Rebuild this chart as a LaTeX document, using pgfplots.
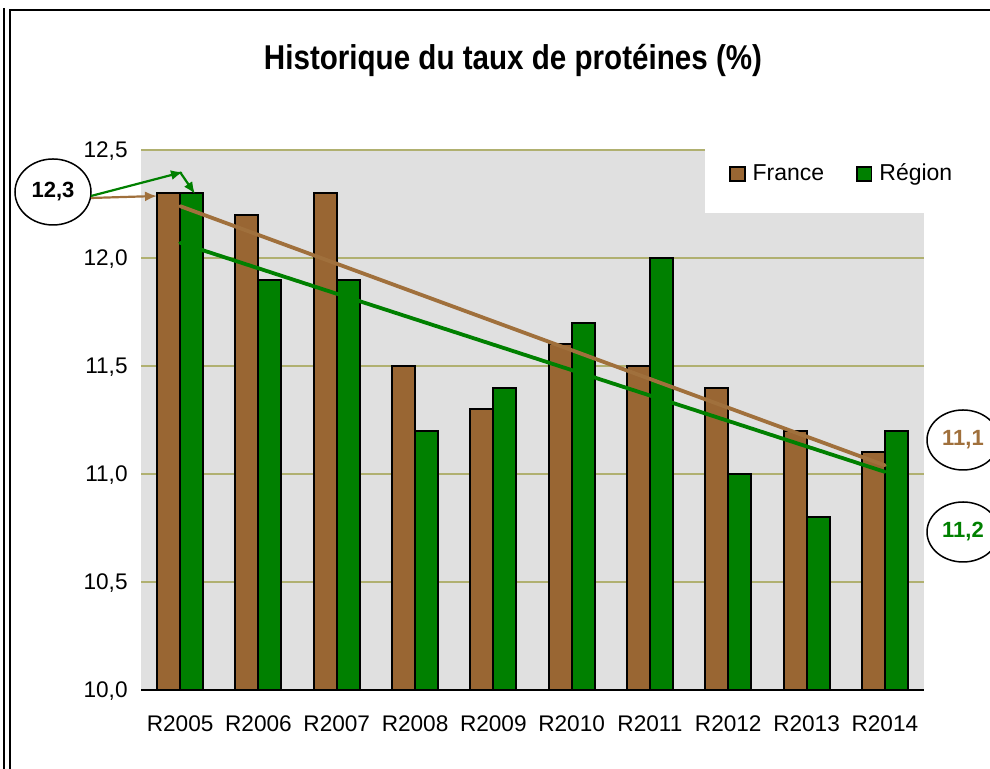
\documentclass[border=0pt]{standalone}
\usepackage{fontspec}
\setmainfont{Liberation Sans}
\usepackage{graphicx}
\usepackage{pgfplots}
\pgfplotsset{compat=1.18}
\usetikzlibrary{arrows.meta}
\definecolor{frbar}{RGB}{153,102,51}
\definecolor{frline}{RGB}{160,112,60}
\definecolor{rgbar}{RGB}{0,128,0}
\definecolor{bggray}{RGB}{224,224,224}
\definecolor{gridcol}{RGB}{176,176,112}
\pgfplotsset{sqlegend/.style={legend image code/.code={\draw[##1, draw=black, line width=0.9pt] (0pt,-3.6pt) rectangle (7.2pt,3.6pt);}}}
\begin{document}
\begin{tikzpicture}
\path[use as bounding box] (0,0) rectangle (495pt,384.5pt);
\begin{axis}[
  name=ax,
  at={(70.5pt,39.5pt)}, anchor=south west,
  scale only axis, width=391.5pt, height=270pt,
  xmin=-0.5, xmax=9.5, ymin=10, ymax=12.5,
  xtick={0,1,2,3,4,5,6,7,8,9},
  xticklabels={R2005,R2006,R2007,R2008,R2009,R2010,R2011,R2012,R2013,R2014},
  ytick={10,10.5,11,11.5,12,12.5},
  ymajorgrids, grid style={gridcol, line width=0.6pt},
  axis background/.style={fill=bggray},
  axis x line*=bottom, axis y line*=left,
  x axis line style={draw=none},
  y axis line style={draw=none},
  tick style={draw=none},
  major tick length=0pt,
  /pgf/number format/.cd, fixed, fixed zerofill, precision=1, use comma, assume math mode=true, /pgfplots/.cd,
  x tick label style={font=\fontsize{11.3}{13}\selectfont, anchor=north, inner sep=0pt, yshift=-12.5pt},
  y tick label style={font=\fontsize{11.3}{13}\selectfont, anchor=base east, inner sep=0pt, xshift=-6.5pt, yshift=-4pt},
  legend style={at={(0.751,0.9556)}, anchor=west, draw=none, fill=none, inner sep=0pt,
    font=\fontsize{11.5}{13}\selectfont,
    /tikz/every odd column/.append style={column sep=1.5pt},
    /tikz/every even column/.append style={column sep=14pt}},
  legend columns=2,
]
\addplot[ybar, bar width=11.5pt, bar shift=-5.75pt, fill=frbar, draw=black, line width=1pt, sqlegend]
  coordinates {(0,12.3) (1,12.2) (2,12.3) (3,11.5) (4,11.3) (5,11.6) (6,11.5) (7,11.4) (8,11.2) (9,11.1)};
\addlegendentry{France}
\addplot[ybar, bar width=11.5pt, bar shift=5.75pt, fill=rgbar, draw=black, line width=1pt, sqlegend]
  coordinates {(0,12.3) (1,11.9) (2,11.9) (3,11.2) (4,11.4) (5,11.7) (6,12.0) (7,11.0) (8,10.8) (9,11.2)};
\addlegendentry{Région}
\addplot[frline, line width=1.9pt, line cap=round, forget plot] coordinates {(0,12.24) (9,11.04)};
\addplot[rgbar, line width=1.9pt, line cap=round, forget plot] coordinates {(0,12.07) (9,11.01)};
\fill[white] (rel axis cs:0.7203,1.01) rectangle (rel axis cs:1.1,0.8833);
\end{axis}
\draw[black, line width=0.75pt] (ax.south west) -- (ax.south east);
\begin{scope}[x=0.5pt,y=-0.5pt,shift={(0,384.5pt)}]
  \draw[line width=0.8pt] (4,8) -- (4,775);
  \draw[line width=1pt] (10,775) -- (10,10) -- (1000,10);
  \node[anchor=base, inner sep=0pt] at (513,70) {\scalebox{0.86}[1]{\fontsize{17.2}{20}\selectfont\bfseries Historique du taux de protéines (\%)}};
  \draw[line width=0.75pt, fill=white] (53,192) ellipse [x radius=19pt, y radius=16.5pt];
  \node[font=\fontsize{11}{12}\selectfont\bfseries] at (53,192) {12,3};
  \draw[frline, line width=1.1pt, -{Latex[length=6pt,width=5pt]}] (91,198) -- (157,196);
  \draw[rgbar, line width=1.1pt, -{Latex[length=6pt,width=5pt]}] (91,196) -- (183,172);
  \draw[rgbar, line width=1.1pt, -{Latex[length=6pt,width=5pt]}] (180,172) -- (195,194);
  \draw[line width=0.75pt, fill=white] (963,440) ellipse [x radius=18pt, y radius=15pt];
  \node[font=\fontsize{11}{12}\selectfont\bfseries, text=frline] at (963,440) {11,1};
  \draw[line width=0.75pt, fill=white] (963,532) ellipse [x radius=18pt, y radius=15pt];
  \node[font=\fontsize{11}{12}\selectfont\bfseries, text=rgbar] at (963,532) {11,2};
\end{scope}
\end{tikzpicture}
\end{document}
